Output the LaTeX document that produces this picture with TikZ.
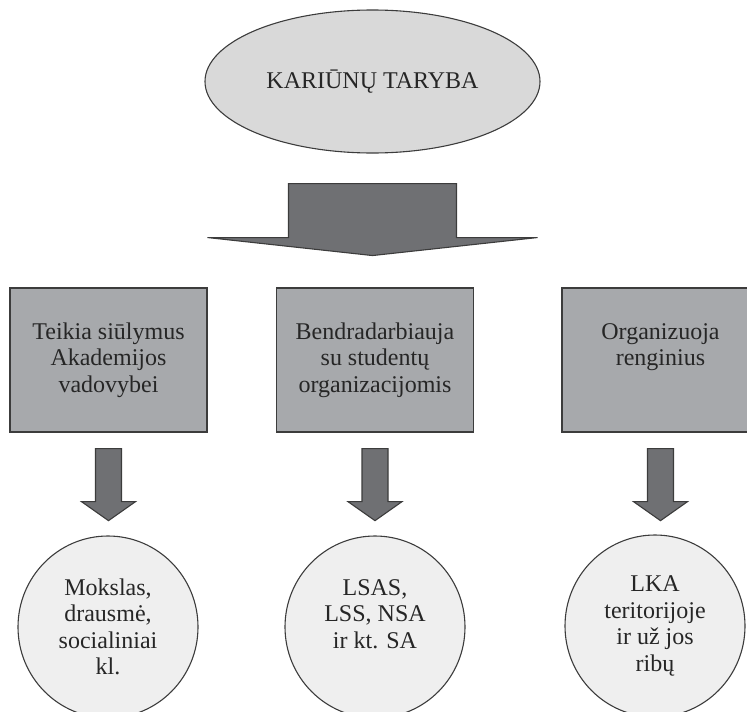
\documentclass[tikz,border=0pt]{standalone}
\usepackage{fontspec}
\setmainfont{Liberation Serif}
\usetikzlibrary{shapes.geometric,calc}
\definecolor{topfill}{HTML}{D9D9D9}
\definecolor{boxfill}{HTML}{A7A9AC}
\definecolor{arrowfill}{HTML}{6F7073}
\definecolor{circfill}{HTML}{EFEFEF}
\definecolor{edge}{HTML}{3C3C3C}
\begin{document}
\begin{tikzpicture}[x=1pt,y=-1pt,
  every node/.style={font=\fontsize{24}{26.5}\selectfont, align=center, text=black!85},
  topell/.style={ellipse, draw=edge, line width=1.1pt, fill=topfill, minimum width=335, minimum height=143, inner sep=0pt},
  taskbox/.style={rectangle, draw=edge, line width=1.3pt, fill=boxfill, minimum width=197, minimum height=144, inner sep=0pt},
  resell/.style={ellipse, draw=edge, line width=1.1pt, fill=circfill, minimum width=180, minimum height=182, inner sep=0pt},
  blockarrow/.style={draw=edge, line width=1.1pt, fill=arrowfill, line join=miter}]
\useasboundingbox (0,0) rectangle (747,712);
\node[topell] (kt) at (372.5,81.5) {KARIŪNŲ TARYBA};
\node[taskbox] (b1) at (108.5,360) {Teikia siūlymus\\Akademijos\\vadovybei};
\node[taskbox] (b2) at (375,360) {Bendradarbiauja\\su studentų\\organizacijomis};
\node[taskbox] (b3) at (660.5,360) {Organizuoja\\renginius\\[4pt]};
\node[resell] (c1) at (108,627) {Mokslas,\\drausmė,\\socialiniai\\kl.};
\node[resell] (c2) at (375,627) {LSAS,\\LSS, NSA\\ir kt. SA\\\mbox{}};
\node[resell] (c3) at (655,626) {LKA\\teritorijoje\\ir už jos\\ribų};
% big arrow
\draw[blockarrow] ($(kt.south)+(-84,30)$) -- ($(kt.south)+(84,30)$) -- ($(kt.south)+(84,84)$)
  -- ($(kt.south)+(165,84)$) -- ($(kt.south)+(0,102)$) -- ($(kt.south)+(-165,84)$)
  -- ($(kt.south)+(-84,84)$) -- cycle;
% small arrows
\foreach \b in {b1,b2,b3}{
  \draw[blockarrow] ($(\b.south)+(-13,16)$) -- ($(\b.south)+(13,16)$) -- ($(\b.south)+(13,69)$)
    -- ($(\b.south)+(27,69)$) -- ($(\b.south)+(0,88)$) -- ($(\b.south)+(-27,69)$)
    -- ($(\b.south)+(-13,69)$) -- cycle;
}
\end{tikzpicture}
\end{document}
